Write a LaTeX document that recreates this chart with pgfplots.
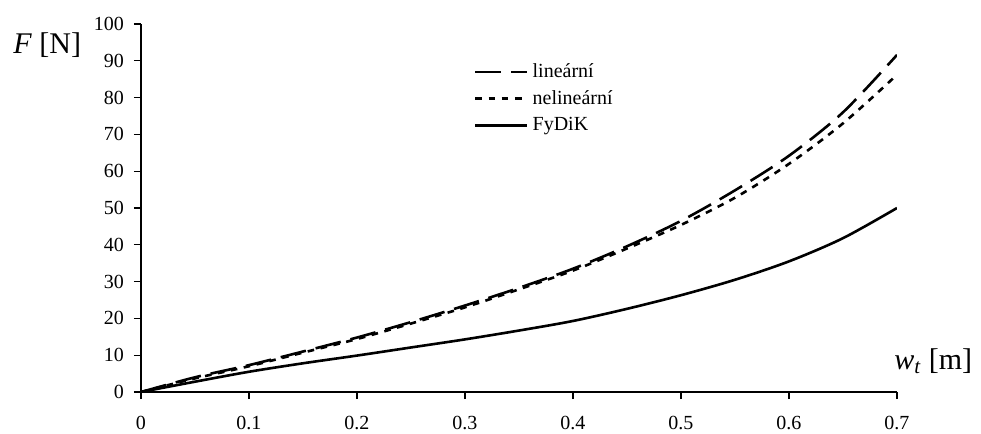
\documentclass[border=0pt]{standalone}
\usepackage{pgfplots}
\pgfplotsset{compat=1.18}
\usepackage{fontspec}
\setmainfont{Liberation Serif}

% curves
\pgfplotstableread{
x     lin   nelin  fydik
0     0     0      0
0.05  4.0   3.7    2.8
0.1   7.3   7.0    5.5
0.15  11.0  10.7   7.8
0.2   14.8  14.4   9.9
0.25  19.0  18.6   12.1
0.3   23.5  23.0   14.3
0.35  28.3  27.9   16.7
0.4   33.5  33.0   19.3
0.45  39.6  39.0   22.6
0.5   46.5  45.4   26.3
0.55  54.8  52.8   30.5
0.6   64.2  62.0   35.5
0.65  76.0  73.0   41.8
0.7   91.6  86.2   50.0
}\dataF

\begin{document}
\begin{tikzpicture}
\useasboundingbox (-70.5pt,-21pt) rectangle (420pt,196pt);
\begin{axis}[
    scale only axis,
    width=378pt, height=184pt,
    xmin=0, xmax=0.7, ymin=0, ymax=100,
    xtick={0,0.1,0.2,0.3,0.4,0.5,0.6,0.7},
    xticklabels={0,0.1,0.2,0.3,0.4,0.5,0.6,0.7},
    ytick={0,10,20,30,40,50,60,70,80,90,100},
    axis lines*=left,
    axis line style={-, line width=0.6pt},
    tick align=outside,
    major tick length=3.5pt,
    tick style={black, line width=0.6pt},
    ticklabel style={font=\fontsize{10}{12}\selectfont},
    /pgf/number format/assume math mode=true,
    xticklabel style={yshift=-5pt},
    yticklabel style={xshift=-1.5pt},
    xlabel={\textit{w}\textsubscript{\itshape t} [m]},
    ylabel={\textit{F} [N]},
    label style={font=\fontsize{15}{18}\selectfont},
    xlabel style={at={(axis description cs:1.048,0.084)}, anchor=center},
    ylabel style={at={(axis description cs:-0.124,0.943)}, rotate=-90, anchor=center},
    legend style={draw=none, fill=none, at={(axis description cs:0.44,0.905)}, anchor=north west,
        font=\fontsize{10}{12}\selectfont, row sep=1pt, inner sep=0pt},
    legend cell align=left,
    legend image code/.code={\draw[#1] (0pt,0pt) -- (26pt,0pt);},
]
\addplot[black, line width=1.3pt, smooth, dash pattern=on 13pt off 5pt] table[x=x, y=lin] {\dataF};
\addlegendentry{lineární}
\addplot[black, line width=1.3pt, smooth, dash pattern=on 3.3pt off 3.3pt] table[x=x, y=nelin] {\dataF};
\addlegendentry{nelineární}
\addplot[black, line width=1.3pt, smooth] table[x=x, y=fydik] {\dataF};
\addlegendentry{FyDiK}
\end{axis}
\end{tikzpicture}
\end{document}
